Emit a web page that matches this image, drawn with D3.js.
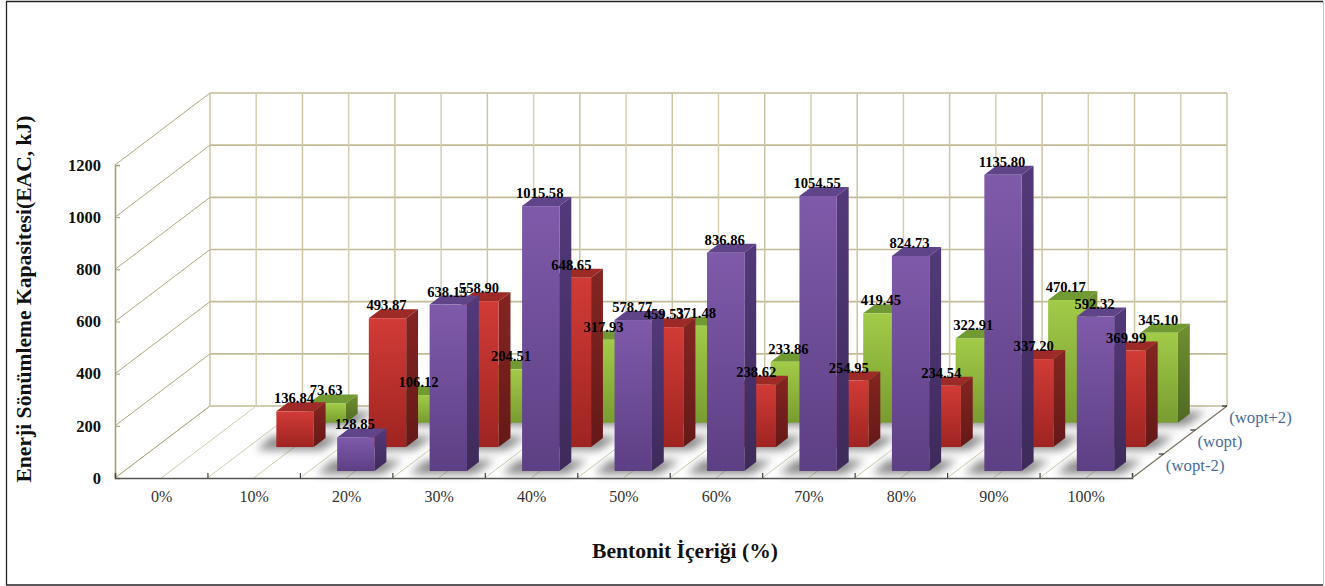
<!DOCTYPE html>
<html>
<head>
<meta charset="utf-8">
<script src="https://cdn.jsdelivr.net/npm/d3@7"></script>
<style>
  html, body { margin: 0; padding: 0; background: #fff; }
  svg { display: block; font-family: "Liberation Serif", serif; }
</style>
</head>
<body>
<svg id="chart" width="1325" height="586"></svg>
<script>
// Energy absorption capacity by bentonite content, three compaction moisture series
const categories = ["0%", "10%", "20%", "30%", "40%", "50%", "60%", "70%", "80%", "90%", "100%"];
const yTicks = [0, 200, 400, 600, 800, 1000, 1200];
const seriesNames = ["(wopt-2)", "(wopt)", "(wopt+2)"];

const woptPlus2 = [null, 73.63, 106.12, 204.51, 317.93, 371.48, 233.86, 419.45, 322.91, 470.17, 345.10];
const wopt = [null, 136.84, 493.87, 558.90, 648.65, 459.53, 238.62, 254.95, 234.54, 337.20, 369.99];
const woptMinus2 = [null, null, 128.85, 638.15, 1015.58, 578.77, 836.86, 1054.55, 824.73, 1135.80, 592.32];

const palette = {
  green: { front: ["#a2cb48", "#789c30"], side: ["#6f9030", "#4f6a20"], top: "#729a33" },
  red: { front: ["#d23b37", "#9e2421"], side: ["#842522", "#651917"], top: "#9d2a26" },
  purple: { front: ["#7f5aaa", "#5d3f84"], side: ["#53397a", "#3e2a5a"], top: "#5f4489" }
};

// Drawn back to front so nearer rows cover farther ones
const rows = [
  { key: "green", values: woptPlus2, depth: 0.768 },
  { key: "red", values: wopt, depth: 0.43 },
  { key: "purple", values: woptMinus2, depth: 0.097 }
];

// Oblique projection: the floor recedes by this offset from front to back
const frontLeft = 115, frontRight = 1132, frontBase = 478, frontTop = 165;
const recede = { dx: 95, dy: -72 };
const barDepth = 0.125;

const xBand = d3.scaleBand().domain(categories).range([frontLeft, frontRight]);
const xEdge = d3.scaleLinear().domain([0, categories.length]).range([frontLeft, frontRight]);
const yFront = d3.scaleLinear().domain([0, 1200]).range([frontBase, frontTop]);
const barWidth = xBand.bandwidth() * 0.404;

const svg = d3.select("#chart");
const defs = svg.append("defs");

defs.append("filter").attr("id", "floorShadow")
  .attr("x", "-40%").attr("y", "-100%").attr("width", "180%").attr("height", "300%")
  .append("feGaussianBlur").attr("stdDeviation", 4);

Object.entries(palette).forEach(([key, p]) => {
  ["front", "side"].forEach(face => {
    const g = defs.append("linearGradient").attr("id", `${key}-${face}`)
      .attr("x1", 0).attr("y1", 0).attr("x2", 0).attr("y2", 1);
    g.append("stop").attr("offset", "0%").attr("stop-color", p[face][0]);
    g.append("stop").attr("offset", "100%").attr("stop-color", p[face][1]);
  });
});

// Page frame: dark on three sides, faint on the right
const frame = svg.append("g");
frame.append("path").attr("d", "M6.5,585V1.5").attr("stroke", "#222").attr("stroke-width", 1.3);
frame.append("path").attr("d", "M6,1.5H1323").attr("stroke", "#222").attr("stroke-width", 1.5);
frame.append("path").attr("d", "M6,585H1323").attr("stroke", "#222").attr("stroke-width", 1.5);
frame.append("path").attr("d", "M1323.5,1V585").attr("stroke", "#c4c4c4").attr("stroke-width", 1);

// Back wall, side wall and floor grid
const grid = svg.append("g").attr("fill", "none");

grid.selectAll("line.wallH").data(yTicks).join("line").attr("class", "wallH")
  .attr("x1", frontLeft + recede.dx).attr("x2", frontRight + recede.dx)
  .attr("y1", d => yFront(d) + recede.dy).attr("y2", d => yFront(d) + recede.dy)
  .attr("stroke", "#c2bb95").attr("stroke-width", 1.6);

const halfSteps = d3.range(0, categories.length + 0.5, 0.5);
grid.selectAll("line.wallV").data(halfSteps).join("line").attr("class", "wallV")
  .attr("x1", d => xEdge(d) + recede.dx).attr("x2", d => xEdge(d) + recede.dx)
  .attr("y1", yFront(1200) + recede.dy).attr("y2", yFront(0) + recede.dy)
  .attr("stroke", d => Number.isInteger(d) ? "#cbc5a4" : "#d5d0b4").attr("stroke-width", 1.5);

grid.selectAll("line.floor").data(halfSteps.slice(0, -1)).join("line").attr("class", "floor")
  .attr("x1", d => xEdge(d)).attr("y1", frontBase)
  .attr("x2", d => xEdge(d) + recede.dx).attr("y2", frontBase + recede.dy)
  .attr("stroke", "#d2ccae").attr("stroke-width", 1);

grid.selectAll("line.sideWall").data(yTicks).join("line").attr("class", "sideWall")
  .attr("x1", frontLeft).attr("y1", d => yFront(d))
  .attr("x2", frontLeft + recede.dx).attr("y2", d => yFront(d) + recede.dy)
  .attr("stroke", "#b0a87e").attr("stroke-width", 1);

// Flatten rows into individual bars with their projected geometry
const bars = rows.flatMap(row => row.values.map((v, i) => {
  if (v === null) return null;
  const left = xBand(categories[i]) + (xBand.bandwidth() - barWidth) / 2 + row.depth * recede.dx + 0.5;
  const base = frontBase + row.depth * recede.dy;
  const top = base - (frontBase - yFront(v));
  return { key: row.key, value: v, left, right: left + barWidth, base, top };
}).filter(Boolean));
const sx = barDepth * recede.dx, sy = barDepth * recede.dy;
const poly = pts => pts.map(p => p.join(",")).join(" ");

// Soft shadows on the floor
svg.append("g").selectAll("polygon").data(bars).join("polygon")
  .attr("points", d => poly([
    [d.left - 20, d.base + 3], [d.right + 8, d.base + 3],
    [d.right + sx + 16, d.base + sy - 2], [d.left + sx - 16, d.base + sy - 2]
  ]))
  .attr("fill", "#3c3c3c").attr("opacity", 0.6).attr("filter", "url(#floorShadow)");

// Bars: top, side and front faces
const barGroups = svg.append("g").selectAll("g").data(bars).join("g");
barGroups.append("polygon")
  .attr("points", d => poly([[d.left, d.top], [d.right, d.top], [d.right + sx, d.top + sy], [d.left + sx, d.top + sy]]))
  .attr("fill", d => palette[d.key].top);
barGroups.append("polygon")
  .attr("points", d => poly([[d.right, d.top], [d.right + sx, d.top + sy], [d.right + sx, d.base + sy], [d.right, d.base]]))
  .attr("fill", d => `url(#${d.key}-side)`);
barGroups.append("rect")
  .attr("x", d => d.left).attr("y", d => d.top)
  .attr("width", barWidth).attr("height", d => d.base - d.top)
  .attr("fill", d => `url(#${d.key}-front)`);

// Value axis on the front-left edge
const yAxis = svg.append("g").attr("transform", `translate(${frontLeft},0)`)
  .call(d3.axisLeft(yFront).tickValues(yTicks).tickSize(-5).tickPadding(14).tickFormat(d3.format("d")));
yAxis.select(".domain").attr("stroke", "#a89f70").attr("stroke-width", 1.6);
yAxis.selectAll(".tick line").attr("stroke", "#a89f70").attr("stroke-width", 1);
yAxis.selectAll("text").attr("fill", "#111").attr("font-size", 16.5).attr("font-weight", "bold")
  .attr("font-family", "Liberation Serif");

// Category axis along the front of the floor
const xTickAxis = svg.append("g").attr("transform", `translate(0,${frontBase})`)
  .call(d3.axisBottom(xEdge).tickValues(d3.range(0, categories.length + 1)).tickSize(-5).tickFormat(""));
xTickAxis.select(".domain").attr("stroke", "#555").attr("stroke-width", 1.4);
xTickAxis.selectAll(".tick line").attr("stroke", "#444").attr("stroke-width", 1.2);

const xLabelAxis = svg.append("g").attr("transform", `translate(0.5,${frontBase})`)
  .call(d3.axisBottom(xBand).tickSize(0).tickPadding(13));
xLabelAxis.select(".domain").remove();
xLabelAxis.selectAll("text").attr("fill", "#333").attr("font-size", 16)
  .attr("font-family", "Liberation Serif");

// Depth axis on the right of the floor
const depthScale = d3.scalePoint().domain(seriesNames).range([0, 1]).padding(0.5);
svg.append("line")
  .attr("x1", frontRight).attr("y1", frontBase)
  .attr("x2", frontRight + recede.dx).attr("y2", frontBase + recede.dy)
  .attr("stroke", "#77735e").attr("stroke-width", 1.2);
svg.append("g").selectAll("line").data([1 / 3, 2 / 3, 1]).join("line")
  .attr("x1", d => frontRight + d * recede.dx - 5).attr("y1", d => frontBase + d * recede.dy)
  .attr("x2", d => frontRight + d * recede.dx).attr("y2", d => frontBase + d * recede.dy)
  .attr("stroke", "#333").attr("stroke-width", 1.2);
svg.append("g").selectAll("text").data(seriesNames).join("text")
  .attr("x", d => frontRight + depthScale(d) * recede.dx + 18)
  .attr("y", d => frontBase + depthScale(d) * recede.dy + 1)
  .attr("text-anchor", "start").attr("dominant-baseline", "middle")
  .attr("fill", "#4a6c9c").attr("font-size", 16.8).text(d => d);

// Value labels sit above all bars
svg.append("g").selectAll("text").data(bars).join("text")
  .attr("x", d => (d.left + d.right) / 2 - 1).attr("y", d => d.top - 8)
  .attr("text-anchor", "middle").attr("fill", "#000").attr("font-size", 14.6).attr("font-weight", "bold")
  .text(d => d3.format(".2f")(d.value));

// Axis titles
svg.append("text").attr("x", 685).attr("y", 558).attr("text-anchor", "middle")
  .attr("font-size", 21.6).attr("font-weight", "bold").attr("fill", "#111").text("Bentonit İçeriği (%)");
svg.append("text").attr("transform", "translate(31,299) rotate(-90)").attr("text-anchor", "middle")
  .attr("font-size", 21.6).attr("font-weight", "bold").attr("fill", "#111")
  .text("Enerji Sönümleme Kapasitesi(EAC, kJ)");
</script>
</body>
</html>
